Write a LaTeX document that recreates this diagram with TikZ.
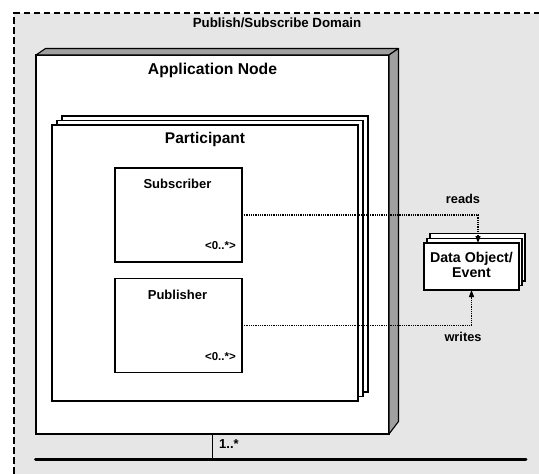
\documentclass[tikz,border=0pt]{standalone}
\usepackage{fontspec}
\setmainfont{Liberation Sans}
\usetikzlibrary{arrows.meta}
\definecolor{domainfill}{HTML}{E6E6E6}
\definecolor{sideface}{HTML}{A0A0A0}
\tikzset{
  box/.style={draw=black, fill=white, line width=1.1pt, inner sep=0pt, outer sep=0pt, anchor=north west},
  face/.style={draw=black, fill=sideface, line width=1.1pt, line join=round},
  layer/.style={draw=black, fill=white, line width=1.1pt},
  lbl/.style={font=\bfseries, inner sep=0pt},
  flow/.style={line width=1.2pt, dash pattern=on 1pt off 0.8pt, -{Triangle[length=7pt,width=5pt]}},
  bus/.style={line width=3pt, line cap=round},
  link/.style={line width=1.1pt}
}
\begin{document}
\begin{tikzpicture}[x=1pt,y=-1pt]
\useasboundingbox (0,0) rectangle (539,474);
\clip (0,0) rectangle (539,474);

% domain area with dashed border (continues past the right and bottom edges)
\fill[domainfill] (14,13) rectangle (600,520);
\draw[line width=1.3pt, dash pattern=on 6.5pt off 3.5pt] (600,13) -- (14,13) -- (14,520);
\node[lbl, font=\bfseries\fontsize{13.3}{15}\selectfont] (domtitle) at (277,23) {Publish/Subscribe Domain};

% application node: 3D box
\node[box, minimum width=353pt, minimum height=379pt] (app) at (36,55) {};
\draw[face] (app.north west) -- ++(9.5,-6.5) -- ++(353,0) -- (app.north east) -- cycle;
\draw[face] (app.north east) -- ++(9.5,-6.5) -- ++(0,373) -- (app.south east) -- cycle;
\node[lbl, font=\bfseries\fontsize{15.7}{18}\selectfont] (apptitle) at (212.5,70.5) {Application Node};

% participant: stacked sheets
\draw[layer] (62,116) rectangle (368,392);
\draw[layer] (57,120.5) rectangle (363,396.5);
\node[box, minimum width=306pt, minimum height=276pt] (part) at (52,125) {};
\node[lbl, font=\bfseries\fontsize{15.5}{18}\selectfont] (parttitle) at (205,139) {Participant};

% subscriber and publisher
\node[box, minimum width=127pt, minimum height=94pt] (sub) at (115,168) {};
\node[lbl, font=\bfseries\fontsize{13}{15}\selectfont] (subtitle) at (177.5,184) {Subscriber};
\node[lbl, font=\bfseries\fontsize{11.5}{13}\selectfont, anchor=east] (submult) at ([xshift=-6pt,yshift=16pt]sub.south east) {<0..*>};

\node[box, minimum width=127pt, minimum height=94pt] (pub) at (115,278.5) {};
\node[lbl, font=\bfseries\fontsize{13}{15}\selectfont] (pubtitle) at (177.5,294.5) {Publisher};
\node[lbl, font=\bfseries\fontsize{11.5}{13}\selectfont, anchor=east] (pubmult) at ([xshift=-6pt,yshift=16pt]pub.south east) {<0..*>};

% data object / event: stacked sheets
\draw[layer] (430,233.5) rectangle (525,281);
\draw[layer] (427,238.5) rectangle (522,285.5);
\node[box, minimum width=95pt, minimum height=47pt] (data) at (424,243) {};
\node[lbl, font=\bfseries\fontsize{14.2}{15}\selectfont, align=center] (datatitle) at (471.5,265) {Data Object/\\Event};

% reads / writes
\draw[flow] (sub.east) -| ([xshift=6.5pt]data.north);
\node[lbl, font=\bfseries\fontsize{12.8}{14}\selectfont] (reads) at (463,198.5) {reads};
\draw[flow] (pub.east) -| (data.south);
\node[lbl, font=\bfseries\fontsize{12.8}{14}\selectfont] (writes) at (463,337) {writes};

% network bus
\coordinate (busL) at (35.5,459.5);
\coordinate (busR) at (526,459.5);
\draw[bus] (busL) -- (busR);
\draw[link] (app.south) -- ([yshift=2pt]app.south |- busL);
\node[lbl, font=\bfseries\fontsize{13}{15}\selectfont, anchor=west] (busmult) at (219,444) {1..*};
\end{tikzpicture}
\end{document}
